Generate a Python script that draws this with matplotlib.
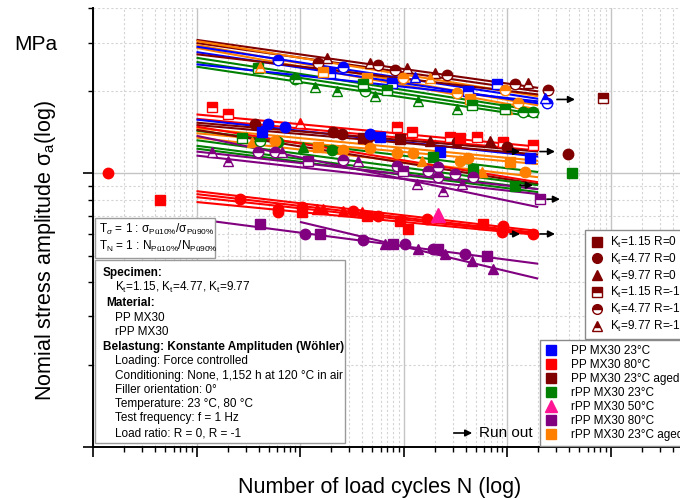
import numpy as np
import matplotlib
matplotlib.use('Agg')
import matplotlib.pyplot as plt
from matplotlib.lines import Line2D
from matplotlib.patches import Rectangle
from matplotlib.ticker import FixedLocator, NullFormatter

plt.rcParams['font.family'] = ['Liberation Sans', 'DejaVu Sans']
plt.rcParams['mathtext.fontset'] = 'custom'
plt.rcParams['mathtext.rm'] = 'Liberation Sans'
plt.rcParams['mathtext.it'] = 'Liberation Sans:italic'
plt.rcParams['mathtext.bf'] = 'Liberation Sans:bold'

# ---------------- data ----------------
mat_colors = {'PP23': '#0000ff', 'PP80': '#ff0000', 'PP23a': '#800000',
              'rPP23': '#008000', 'rPP50': '#ff1493', 'rPP80': '#800080',
              'rPP23a': '#ff8000'}
mat_labels = ['PP MX30 23°C', 'PP MX30 80°C', 'PP MX30 23°C aged', 'rPP MX30 23°C',
              'rPP MX30 50°C', 'rPP MX30 80°C', 'rPP MX30 23°C aged']
mat_keys = ['PP23', 'PP80', 'PP23a', 'rPP23', 'rPP50', 'rPP80', 'rPP23a']
kt_markers = {1.15: 's', 4.77: 'o', 9.77: '^'}

# fitted Woehler lines
line_mat = ['PP23a', 'PP23a', 'rPP23a', 'rPP23a', 'rPP23a', 'PP23', 'PP23', 'PP23a',
            'rPP23', 'rPP23', 'rPP23', 'PP23',
            'PP80', 'PP80', 'PP23', 'PP23a', 'PP23a', 'rPP23a', 'rPP23a', 'rPP23',
            'rPP23a', 'PP80', 'PP23a', 'rPP23', 'rPP23', 'rPP23', 'rPP80', 'rPP80', 'rPP80',
            'PP80', 'PP80', 'PP80', 'PP80', 'rPP80', 'rPP80']
line_N0 = [1e3] * 34 + [1e4]
line_N1 = [2e6] * 35
line_s0 = [30.7, 29.9, 30.4, 29.4, 28.7, 29.0, 27.7, 27.2, 26.4, 25.5, 24.5, 25.0,
           16.4, 15.8, 15.7, 15.3, 15.0, 14.6, 14.0, 14.3, 13.5, 14.8, 14.4, 13.2, 12.6,
           12.3, 13.7, 12.0, 11.6,
           8.60, 8.39, 8.18, 7.85, 6.80, 6.64]
line_s1 = [20.5, 19.9, 19.1, 17.7, 17.1, 18.7, 18.0, 19.4, 16.9, 16.4, 16.0, 18.3,
           12.5, 12.1, 11.5, 12.0, 11.7, 11.1, 10.8, 10.1, 9.67, 9.27, 9.12, 9.04, 8.75,
           8.53, 7.52, 8.75, 8.39,
           6.15, 6.05, 6.00, 5.95, 4.67, 4.12]

# upper group (R = -1)
upper_N = [6130, 3930, 4110, 8950, 9360, 1.82e4, 1.49e4, 1.40e4, 2.28e4, 1.95e4, 2.60e4,
           1.67e4, 4.25e4, 4.75e4, 5.67e4, 8.28e4, 1.08e5, 2.02e5, 2.63e5, 1.19e6, 1.60e6,
           2.49e6, 8.00e5, 2.43e6, 2.33e6, 4.20e5, 1.29e5, 7.74e4, 4.44e4, 9.89e4, 1.80e5,
           3.29e5, 4.39e5, 9.57e5, 1.0e6, 1.28e6, 5.31e4, 6.93e4, 1.38e5, 3.29e5, 4.59e5,
           9.57e5, 1.43e6, 1.78e6, 4.06e4, 8.47e6, 1410, 2010]
upper_s = [26.0, 24.3, 24.5, 22.0, 22.3, 26.4, 25.3, 20.7, 19.9, 23.3, 24.5, 23.5, 19.9,
           25.3, 24.9, 23.9, 24.3, 23.3, 22.9, 21.1, 21.4, 20.2, 21.1, 18.1, 18.9, 19.9,
           22.5, 21.4, 22.3, 22.3, 22.3, 19.7, 18.6, 20.2, 17.1, 18.1, 19.1, 20.2, 18.3,
           17.1, 17.8, 17.1, 16.8, 16.7, 21.1, 18.9, 17.5, 16.4]
upper_mat = ['PP23', 'rPP23', 'rPP23a', 'rPP23', 'rPP23', 'PP23a', 'PP23a', 'rPP23', 'rPP23',
             'PP23', 'PP23', 'rPP23a', 'rPP23', 'PP23a', 'PP23a', 'PP23a', 'PP23a', 'PP23a',
             'PP23a', 'PP23a', 'PP23a', 'PP23a', 'PP23', 'PP23', 'PP23', 'PP23', 'PP23', 'PP23',
             'rPP23a', 'rPP23a', 'rPP23a', 'rPP23a', 'rPP23a', 'rPP23a', 'rPP23a', 'rPP23a',
             'rPP23', 'rPP23', 'rPP23', 'rPP23', 'rPP23', 'rPP23', 'rPP23', 'rPP23', 'rPP23',
             'PP23a', 'PP80', 'PP80']
upper_kt = [4.77, 1.15, 9.77, 4.77, 9.77, 9.77, 4.77, 9.77, 9.77, 1.15, 4.77, 1.15, 4.77,
            9.77, 4.77, 4.77, 9.77, 9.77, 4.77, 4.77, 9.77, 4.77, 1.15, 4.77, 9.77, 1.15,
            9.77, 1.15, 1.15, 4.77, 9.77, 4.77, 1.15, 4.77, 9.77, 4.77, 9.77, 1.15, 9.77,
            9.77, 1.15, 1.15, 4.77, 4.77, 1.15, 1.15, 1.15, 1.15]
upper_R = -1

# middle group
mid_N = [3670, 4910, 7160, 1.0e4, 2.08e4, 2.55e4, 4.06e4, 2750, 3440, 4110, 6130, 5730,
         1.07e4, 1.49e4, 2.04e4, 2.60e4, 1410, 2010, 3930, 5730, 6700, 1.19e4, 2.60e4,
         3.63e4, 4300, 8.66e4, 1.21e5, 4.44e4, 4.75e4, 5.93e4, 9.25e4, 1.80e5, 2.81e5,
         3.29e5, 3.52e5, 6.85e5, 5.13e5, 9.15e5, 1.0e6, 1.78e6, 2.25e5, 1.67e6, 4.75e4,
         8.66e4, 1.24e5, 1.51e5, 3.52e5, 4.20e5, 1.07e6, 1.49e6, 5.73e5, 1.93e5, 4.69e5,
         1.19e6, 8.66e4, 9.89e4, 1.73e5, 1.35e5, 2.15e5, 3.15e5, 2.41e5, 3.68e5, 4.69e5,
         2.15e5, 2.08e6, 3.88e6, 4.25e6]
mid_s = [15.1, 15.1, 14.8, 15.3, 14.1, 13.9, 13.5, 13.5, 13.0, 13.1, 13.0, 13.1, 12.5,
         12.5, 12.2, 12.2, 12.0, 11.1, 12.0, 12.0, 12.0, 11.1, 11.2, 11.1, 14.2, 14.7,
         14.2, 13.3, 13.9, 13.6, 13.3, 13.1, 13.6, 13.0, 13.5, 13.1, 13.6, 13.0, 12.5,
         12.7, 12.0, 11.4, 12.4, 11.9, 11.9, 11.1, 11.1, 11.4, 11.0, 10.1, 10.1, 11.5,
         10.3, 8.97, 10.6, 10.2, 10.2, 9.12, 10.5, 9.92, 8.60, 9.12, 9.67, 9.67, 8.04,
         11.8, 10.0]
mid_mat = ['PP23a', 'PP23', 'PP23', 'PP80', 'PP23a', 'PP23a', 'PP23a', 'rPP23', 'rPP23a',
           'rPP23', 'rPP23', 'rPP23a', 'rPP23', 'rPP23a', 'rPP23', 'rPP23a', 'rPP80', 'rPP80',
           'rPP80', 'rPP80', 'rPP80', 'rPP80', 'rPP80', 'rPP80', 'PP23', 'PP80', 'PP80',
           'PP23a', 'PP23', 'PP23', 'PP23a', 'PP23a', 'PP80', 'PP23a', 'PP80', 'PP23a', 'PP80',
           'PP80', 'PP23a', 'PP80', 'PP23', 'PP23', 'rPP23a', 'rPP23a', 'rPP23a', 'rPP23a',
           'rPP23a', 'rPP23a', 'rPP23a', 'rPP23a', 'rPP23a', 'rPP23', 'rPP23', 'rPP23',
           'rPP80', 'rPP80', 'rPP80', 'rPP80', 'rPP80', 'rPP80', 'rPP80', 'rPP80', 'rPP80',
           'rPP80', 'rPP80', 'PP23a', 'rPP23']
mid_kt = [4.77, 4.77, 4.77, 9.77, 4.77, 4.77, 1.15, 1.15, 9.77, 4.77, 4.77, 4.77, 9.77,
          1.15, 4.77, 4.77, 9.77, 9.77, 4.77, 4.77, 9.77, 1.15, 4.77, 9.77, 1.15, 1.15,
          1.15, 4.77, 4.77, 1.15, 1.15, 9.77, 1.15, 4.77, 1.15, 9.77, 1.15, 1.15, 4.77,
          1.15, 1.15, 1.15, 4.77, 4.77, 4.77, 9.77, 4.77, 4.77, 1.15, 4.77, 9.77, 1.15,
          1.15, 1.15, 4.77, 1.15, 4.77, 9.77, 4.77, 4.77, 9.77, 9.77, 4.77, 4.77, 1.15,
          4.77, 1.15]
mid_R = [0, 0, 0, -1, 0, 0, 0, -1, 0, -1, 0, 0, 0, 0, 0, 0, -1, -1, -1, -1, -1, -1, -1, -1,
         0, -1, -1, 0, 0, 0, 0, 0, -1, 0, 0, 0, -1, -1, 0, -1, 0, 0, 0, 0, 0, 0, 0, 0, 0, 0,
         0, 0, 0, 0, -1, -1, -1, -1, -1, -1, -1, -1, -1, -1, -1, 0, 0]

# lower group (80 °C / 50 °C, R = 0)
low_N = [140, 444, 2630, 6130, 6130, 1.05e4, 1.05e4, 1.46e4, 1.67e4, 2.60e4, 3.25e4,
         3.97e4, 4.44e4, 5.67e4, 9.25e4, 1.10e5, 1.69e5, 5.86e5, 9.15e5, 8.95e5, 1.78e6,
         2.15e5, 4110, 1.12e4, 1.56e4, 4.06e4, 6.63e4, 7.92e4, 1.03e5, 1.38e5, 1.93e5,
         2.15e5, 2.52e5, 3.93e5, 4.59e5, 6.41e5, 7.33e5]
low_s = [10.0, 7.98, 8.04, 7.39, 7.21, 7.52, 7.21, 7.39, 7.39, 7.28, 7.28, 7.21, 6.98, 6.98,
         6.69, 6.26, 6.80, 6.52, 6.42, 6.10, 6.00, 7.03, 6.52, 6.00, 6.00, 5.71, 5.52, 5.52,
         5.52, 5.29, 5.29, 5.29, 5.08, 5.08, 4.79, 4.99, 4.48]
low_mat = ['PP80'] * 21 + ['rPP50'] + ['rPP80'] * 15
low_kt = [4.77, 1.15, 4.77, 4.77, 4.77, 4.77, 1.15, 9.77, 9.77, 9.77, 4.77, 9.77, 1.15, 4.77,
          1.15, 1.15, 4.77, 1.15, 4.77, 4.77, 4.77, 9.77, 1.15, 4.77, 1.15, 4.77, 9.77, 1.15,
          4.77, 9.77, 4.77, 1.15, 9.77, 4.77, 9.77, 1.15, 9.77]
low_R = 0

# run-outs
runout_N0 = [3.04e6, 1.0e6, 2.08e6, 1.34e6, 2.43e6, 1.07e6, 2.08e6]
runout_N1 = [4.54e6, 1.34e6, 2.91e6, 1.78e6, 3.25e6, 1.34e6, 2.91e6]
runout_s = [18.6, 12.0, 12.0, 9.04, 8.04, 6.0, 6.0]

# ---------------- figure ----------------
W, H = 680, 500
fig = plt.figure(figsize=(6.8, 5.0), dpi=100)


def fx(px):
    return px / W


def fy(py):
    return 1 - py / H


ax = fig.add_axes([fx(93), 53 / H, (714 - 93) / W, (447 - 8.4) / H])
ax.set_xscale('log')
ax.set_yscale('log')
ax.set_xlim(1e2, 1e8)
ax.set_ylim(1, 40)

ax.xaxis.set_major_locator(FixedLocator([10.0 ** k for k in range(2, 9)]))
ax.xaxis.set_minor_locator(FixedLocator([m * 10.0 ** k for k in range(2, 8) for m in range(2, 10)]))
ax.yaxis.set_major_locator(FixedLocator([1, 10]))
ax.yaxis.set_minor_locator(FixedLocator([2, 3, 4, 5, 6, 7, 8, 9, 20, 30, 40]))
for a in (ax.xaxis, ax.yaxis):
    a.set_major_formatter(NullFormatter())
    a.set_minor_formatter(NullFormatter())

ax.grid(which='major', color='#c4c4c4', lw=1.0, ls='-', zorder=0)
ax.grid(which='minor', color='#d4d4d4', lw=0.8, ls=(0, (2, 2)), zorder=0)
ax.set_axisbelow(True)
ax.tick_params(which='major', direction='out', length=7, width=1.2, color='black')
ax.tick_params(which='minor', direction='out', length=3.5, width=1.0, color='black')
for sp in ('top', 'right'):
    ax.spines[sp].set_visible(False)
for sp in ('left', 'bottom'):
    ax.spines[sp].set_linewidth(1.4)

# lines
for m, n0, n1, s0, s1 in zip(line_mat, line_N0, line_N1, line_s0, line_s1):
    ax.plot([n0, n1], [s0, s1], color=mat_colors[m], lw=1.5, zorder=2, solid_capstyle='butt')


def draw_point(n, s, mat, kt, r):
    c = mat_colors[mat]
    mk = kt_markers[kt]
    ms = {'s': 6.5, 'o': 7.5, '^': 7.5}[mk]
    if mat == 'rPP50':
        ms = 10
    if r == -1:
        ax.plot([n], [s], marker=mk, ls='none', ms=ms, mfc=c, mec=c, mew=1.0,
                fillstyle='top', markerfacecoloralt='white', zorder=3)
    else:
        ax.plot([n], [s], marker=mk, ls='none', ms=ms, mfc=c, mec=c, mew=1.0, zorder=3)


for n, s, m, k in zip(upper_N, upper_s, upper_mat, upper_kt):
    draw_point(n, s, m, k, upper_R)
for n, s, m, k, r in zip(mid_N, mid_s, mid_mat, mid_kt, mid_R):
    draw_point(n, s, m, k, r)
for n, s, m, k in zip(low_N, low_s, low_mat, low_kt):
    draw_point(n, s, m, k, low_R)

for n0, n1, s in zip(runout_N0, runout_N1, runout_s):
    ax.annotate('', xy=(n1, s), xytext=(n0, s),
                arrowprops=dict(arrowstyle='-|>', color='black', lw=1.2,
                                mutation_scale=10, shrinkA=0, shrinkB=0), zorder=4)

# axis titles
fig.text(fx(380), fy(487), 'Number of load cycles N (log)', ha='center', va='center', fontsize=15.5)
fig.text(fx(46), fy(250), r'Nomial stress amplitude σ$_\mathregular{a}$(log)', rotation=90,
         ha='center', va='center', fontsize=15.5)
fig.text(fx(14), fy(45), 'MPa', ha='left', va='center', fontsize=15)

# T box
fig.patches.append(Rectangle((fx(95), fy(258)), fx(215) - fx(95), fy(218) - fy(258),
                             transform=fig.transFigure, facecolor='white', edgecolor='#9a9a9a',
                             lw=1.0, zorder=5))
fig.text(fx(99), fy(229), r'T$_\sigma$ = 1 : σ$_\mathregular{Pü10\%}$/σ$_\mathregular{Pü90\%}$',
         ha='left', va='center', fontsize=8.5, zorder=6)
fig.text(fx(99), fy(246), r'T$_\mathregular{N}$ = 1 : N$_\mathregular{Pü10\%}$/N$_\mathregular{Pü90\%}$',
         ha='left', va='center', fontsize=8.5, zorder=6)

# info box
fig.patches.append(Rectangle((fx(95), fy(443)), fx(345) - fx(95), fy(260) - fy(443),
                             transform=fig.transFigure, facecolor='white', edgecolor='#9a9a9a',
                             lw=1.0, zorder=5))
info_lines = [
    (103, 273, 'Specimen:', 'bold'),
    (115, 287, r'K$_\mathregular{t}$=1.15, K$_\mathregular{t}$=4.77, K$_\mathregular{t}$=9.77', 'normal'),
    (106, 303, 'Material:', 'bold'),
    (115, 318, 'PP MX30', 'normal'),
    (115, 332, 'rPP MX30', 'normal'),
    (103, 347, 'Belastung: Konstante Amplituden (Wöhler)', 'bold'),
    (115, 361, 'Loading: Force controlled', 'normal'),
    (115, 376, 'Conditioning: None, 1,152 h at 120 °C in air', 'normal'),
    (115, 390, 'Filler orientation: 0°', 'normal'),
    (115, 404, 'Temperature: 23 °C, 80 °C', 'normal'),
    (115, 418, 'Test frequency: f = 1 Hz', 'normal'),
    (115, 433, 'Load ratio: R = 0, R = -1', 'normal'),
]
for px, py, t, w in info_lines:
    fig.text(fx(px), fy(py), t, ha='left', va='center', fontsize=8.5, fontweight=w, zorder=6)

# run out key
fig.add_artist(matplotlib.patches.FancyArrowPatch((fx(451), fy(433)), (fx(475), fy(433)),
                                                  transform=fig.transFigure, arrowstyle='-|>',
                                                  mutation_scale=10, color='black', lw=1.2))
fig.text(fx(479), fy(433), 'Run out', ha='left', va='center', fontsize=11)

# legend 1: geometry
dr = mat_colors['PP23a']
h1 = []
lab1 = []
for r in (0, -1):
    for kt in (1.15, 4.77, 9.77):
        mk = kt_markers[kt]
        if r == 0:
            h1.append(Line2D([], [], marker=mk, ls='none', ms=7, mfc=dr, mec=dr))
        else:
            h1.append(Line2D([], [], marker=mk, ls='none', ms=7, mfc=dr, mec=dr,
                             fillstyle='top', markerfacecoloralt='white'))
        lab1.append(r'K$_\mathregular{t}$=%.2f R=%d' % (kt, r))
leg1 = fig.legend(h1, lab1, loc='upper left', bbox_to_anchor=(fx(585), fy(230)),
                  bbox_transform=fig.transFigure, fontsize=8.5, frameon=True, fancybox=False,
                  edgecolor='#8a8a8a', framealpha=1, borderaxespad=0, borderpad=0.4,
                  handlelength=1.2, handletextpad=0.55, labelspacing=0.15)
leg1.get_frame().set_linewidth(1.0)

h2 = []
for k in mat_keys:
    c = mat_colors[k]
    mk = '^' if k == 'rPP50' else 's'
    h2.append(Line2D([], [], marker=mk, ls='none', ms=7 if mk == 's' else 8.5, mfc=c, mec=c))
leg2 = fig.legend(h2, mat_labels, loc='upper left', bbox_to_anchor=(fx(540), fy(340)),
                  bbox_transform=fig.transFigure, fontsize=8.5, frameon=True, fancybox=False,
                  edgecolor='#8a8a8a', framealpha=1, borderaxespad=0, borderpad=0.4,
                  handlelength=1.0, handletextpad=1.2, labelspacing=0.18)
leg2.get_frame().set_linewidth(1.0)

fig.savefig('out.png', dpi=100)
